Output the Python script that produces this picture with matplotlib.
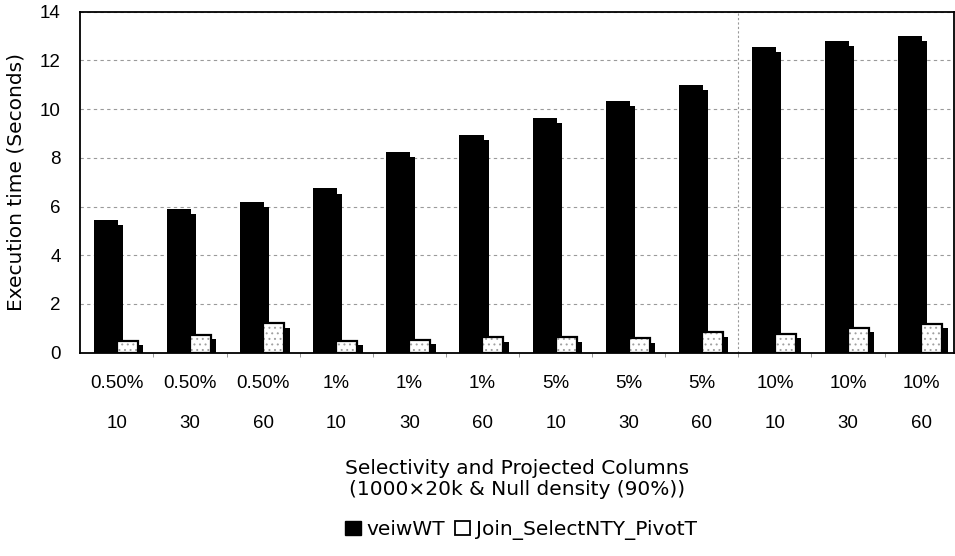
import matplotlib
matplotlib.use("Agg")
import matplotlib.pyplot as plt
import numpy as np
from matplotlib.patches import Patch

selectivity = ["0.50%", "0.50%", "0.50%", "1%", "1%", "1%", "5%", "5%", "5%", "10%", "10%", "10%"]
columns = ["10", "30", "60", "10", "30", "60", "10", "30", "60", "10", "30", "60"]
veiwWT = [5.45, 5.9, 6.2, 6.75, 8.25, 8.95, 9.65, 10.35, 11.0, 12.55, 12.8, 13.0]
join_pivot = [0.49, 0.74, 1.2, 0.48, 0.53, 0.63, 0.63, 0.59, 0.84, 0.77, 1.03, 1.18]
series_names = ["veiwWT", "Join_SelectNTY_PivotT"]
yticks = [0, 2, 4, 6, 8, 10, 12, 14]

plt.rcParams["hatch.linewidth"] = 0.7
fig = plt.figure(figsize=(9.55, 5.56), dpi=100)
ax = fig.add_axes([80/955, 1-352.7/556, (954-80)/955, (352.7-11.7)/556])

x = np.arange(len(veiwWT))
step = 0.22  # 3D side drop

# black series: front face + lower side strip
ax.bar(x + 0.048, np.array(veiwWT) - step, width=0.07, color="black", zorder=2, linewidth=0)
ax.bar(x - 0.315, veiwWT, width=0.33, align="edge", color="black", zorder=3, linewidth=0)

# white series: black side strip + dotted white front face
ax.bar(x + 0.287, np.array(join_pivot) - step * 0.8, width=0.075, align="edge", color="black", zorder=4, linewidth=0)
ax.bar(x, join_pivot, width=0.287, align="edge", facecolor="white", edgecolor="#a0a0a0",
       hatch="...", linewidth=0, zorder=5)
ax.bar(x, join_pivot, width=0.287, align="edge", fill=False, edgecolor="black",
       linewidth=1.6, zorder=6)

ax.set_xlim(-0.505, 11.45)
ax.set_ylim(0, 14)
ax.set_yticks(yticks)
ax.set_yticklabels([str(t) for t in yticks], fontsize=13.5, family="Liberation Sans")
ax.tick_params(axis="y", length=0, pad=14)

ax.set_xticks(x)
labels = [f"{s}\n{c}" for s, c in zip(selectivity, columns)]
ax.set_xticklabels(labels, fontsize=13.5, family="Liberation Sans")
for lab in ax.get_xticklabels():
    lab.set_linespacing(2.8)
ax.tick_params(axis="x", length=0, pad=16)
ax.set_xticks(np.arange(-0.5, 11.6, 1.0)[1:-1], minor=True)
ax.tick_params(axis="x", which="minor", length=3, color="#888888", direction="out")

ax.yaxis.grid(True, linestyle=(0, (3, 3)), color="#9a9a9a", linewidth=0.8)
ax.set_axisbelow(True)
ax.axvline(8.5, color="#999999", linestyle=(0, (2, 2)), linewidth=0.8, zorder=1)

for sp in ax.spines.values():
    sp.set_color("black")
    sp.set_linewidth(1.3)

ax.set_ylabel("Execution time (Seconds)", fontsize=14.5, family="DejaVu Sans", labelpad=10)
ax.set_xlabel("Selectivity and Projected Columns\n(1000\u00d720k & Null density (90%))",
              fontsize=14.5, family="DejaVu Sans", labelpad=19, linespacing=1.15)

handles = [Patch(facecolor="black", edgecolor="black"),
           Patch(facecolor="white", edgecolor="black", linewidth=1.3)]
fig.legend(handles, series_names, loc="center", bbox_to_anchor=(0.546, 1-530/556), ncol=2,
           frameon=False, handlelength=0.75, handleheight=0.75,
           handletextpad=0.3, columnspacing=0.5, prop={"family": "DejaVu Sans", "size": 14.5})

fig.savefig("out.png", dpi=100)
